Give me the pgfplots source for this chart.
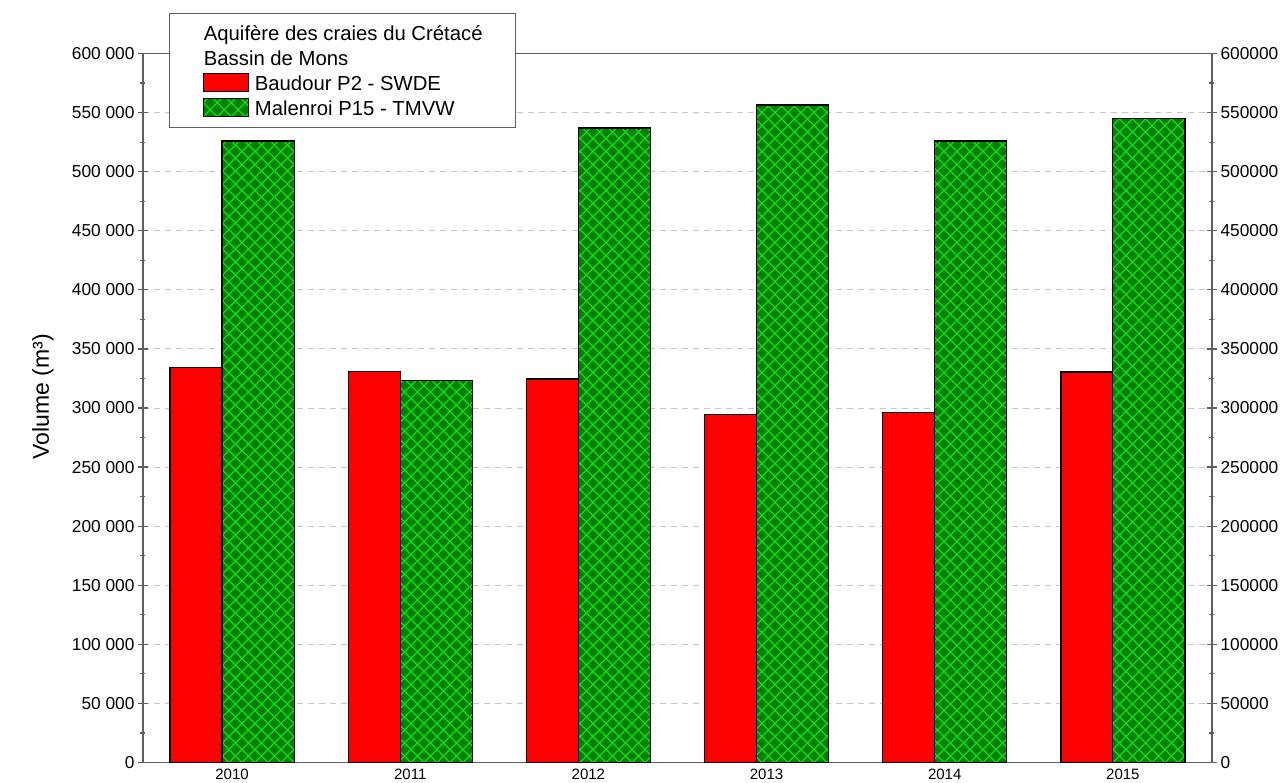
\documentclass[border=0pt]{standalone}
\usepackage{fontspec}
\setmainfont{Liberation Sans}
\usepackage{pgfplots}
\pgfplotsset{compat=1.18}

\definecolor{barred}{RGB}{255,0,0}
\definecolor{bargreen}{RGB}{0,128,0}
\definecolor{hatchgreen}{RGB}{20,220,20}
\definecolor{axisgray}{RGB}{95,95,95}

\pgfplotsset{
  hatched/.style={fill=bargreen, draw=black, line width=1.3pt,
    path picture={
      \draw[path picture={}, fill=none, draw=hatchgreen, line width=1.2pt]
        \foreach \i in {-720,-707,...,1800} {
          ([xshift=\i pt]rel axis cs:0,0) -- ++(720pt,720pt)
          ([xshift=\i pt]rel axis cs:0,0) -- ++(-720pt,720pt)
        };
    }},
  common/.style={
    scale only axis, width=1069pt, height=709pt,
    at={(0pt,0pt)}, anchor=south west,
    xmin=-0.5, xmax=5.5, ymin=0, ymax=600000,
    ytick={0,50000,...,600000}, minor y tick num=1,
    tick align=center, major tick length=10pt, minor tick length=5pt,
    every tick/.style={axisgray, line width=1.2pt},
    axis line style={axisgray, line width=1.2pt},
    scaled y ticks=false,
  },
}

\begin{document}
\begin{tikzpicture}
\useasboundingbox (-143pt,-19.5pt) rectangle (1144pt,762.5pt);
\begin{axis}[
  common,
  ytick pos=left,
  xtick={0,1,2,3,4,5},
  xticklabels={2010,2011,2012,2013,2014,2015},
  major x tick style={draw=none},
  xticklabel style={font=\fontsize{15}{18}\selectfont, inner sep=0pt, yshift=-1.5pt},
  yticklabel style={font=\fontsize{17.3}{20}\selectfont,
    /pgf/number format/fixed, /pgf/number format/1000 sep={\ },
    /pgf/number format/assume math mode=true},
  ymajorgrids,
  major grid style={gray!45, dash pattern=on 6pt off 5pt, line width=1pt},
  ylabel={Volume (m³)},
  every axis y label/.style={at={(axis description cs:-0.0935,0.516)}, rotate=90, anchor=center,
    font=\fontsize{23}{27}\selectfont},
  legend style={at={(axis description cs:0.0243,1.0567)}, anchor=north west,
    draw=axisgray, line width=1.2pt, fill=white,
    inner xsep=33pt, inner ysep=7pt, row sep=0pt, column sep=6pt,
    font=\fontsize{20.3}{24}\selectfont,
    cells={anchor=west},
    nodes={inner sep=0pt, text height=19.5pt, text depth=5.5pt}},
  legend image code/.code={\draw[#1] (0pt,-8.3pt) rectangle (45pt,9.7pt);},
]
\addlegendimage{empty legend}
\addlegendentry{\hspace{-51pt}Aquifère des craies du Crétacé\hspace{6pt}}
\addlegendimage{empty legend}
\addlegendentry{\hspace{-51pt}Bassin de Mons}

\addplot[ybar, bar width=0.292, bar shift=-0.202, fill=barred, draw=black, line width=1.3pt]
  coordinates {(0,334000) (1,331000) (2,324500) (3,294500) (4,296000) (5,330500)};
\addlegendentry{Baudour P2 - SWDE}

\addplot[ybar, bar width=0.405, bar shift=0.146, hatched,
  legend image code/.code={
    \begin{scope}[path picture={}]
      \clip (0pt,-8.3pt) rectangle (45pt,9.7pt);
      \fill[path picture={}, bargreen] (0pt,-8.3pt) rectangle (45pt,9.7pt);
      \draw[path picture={}, fill=none, draw=hatchgreen, line width=1.2pt]
        \foreach \j in {-28,-14,...,70} {(\j pt,-8.3pt) -- ++(18pt,18pt) (\j pt,-8.3pt) -- ++(-18pt,18pt)};
    \end{scope}
    \draw[path picture={}, fill=none, draw=black, line width=1.3pt] (0pt,-8.3pt) rectangle (45pt,9.7pt);
  }]
  coordinates {(0,526000) (1,323500) (2,537000) (3,556500) (4,526000) (5,545000)};
\addlegendentry{Malenroi P15 - TMVW}
\end{axis}

\begin{axis}[
  common,
  axis x line=none, axis y line*=right,
  yticklabel style={font=\fontsize{17.3}{20}\selectfont,
    /pgf/number format/fixed, /pgf/number format/1000 sep={},
    /pgf/number format/assume math mode=true},
]
\end{axis}
\end{tikzpicture}
\end{document}
